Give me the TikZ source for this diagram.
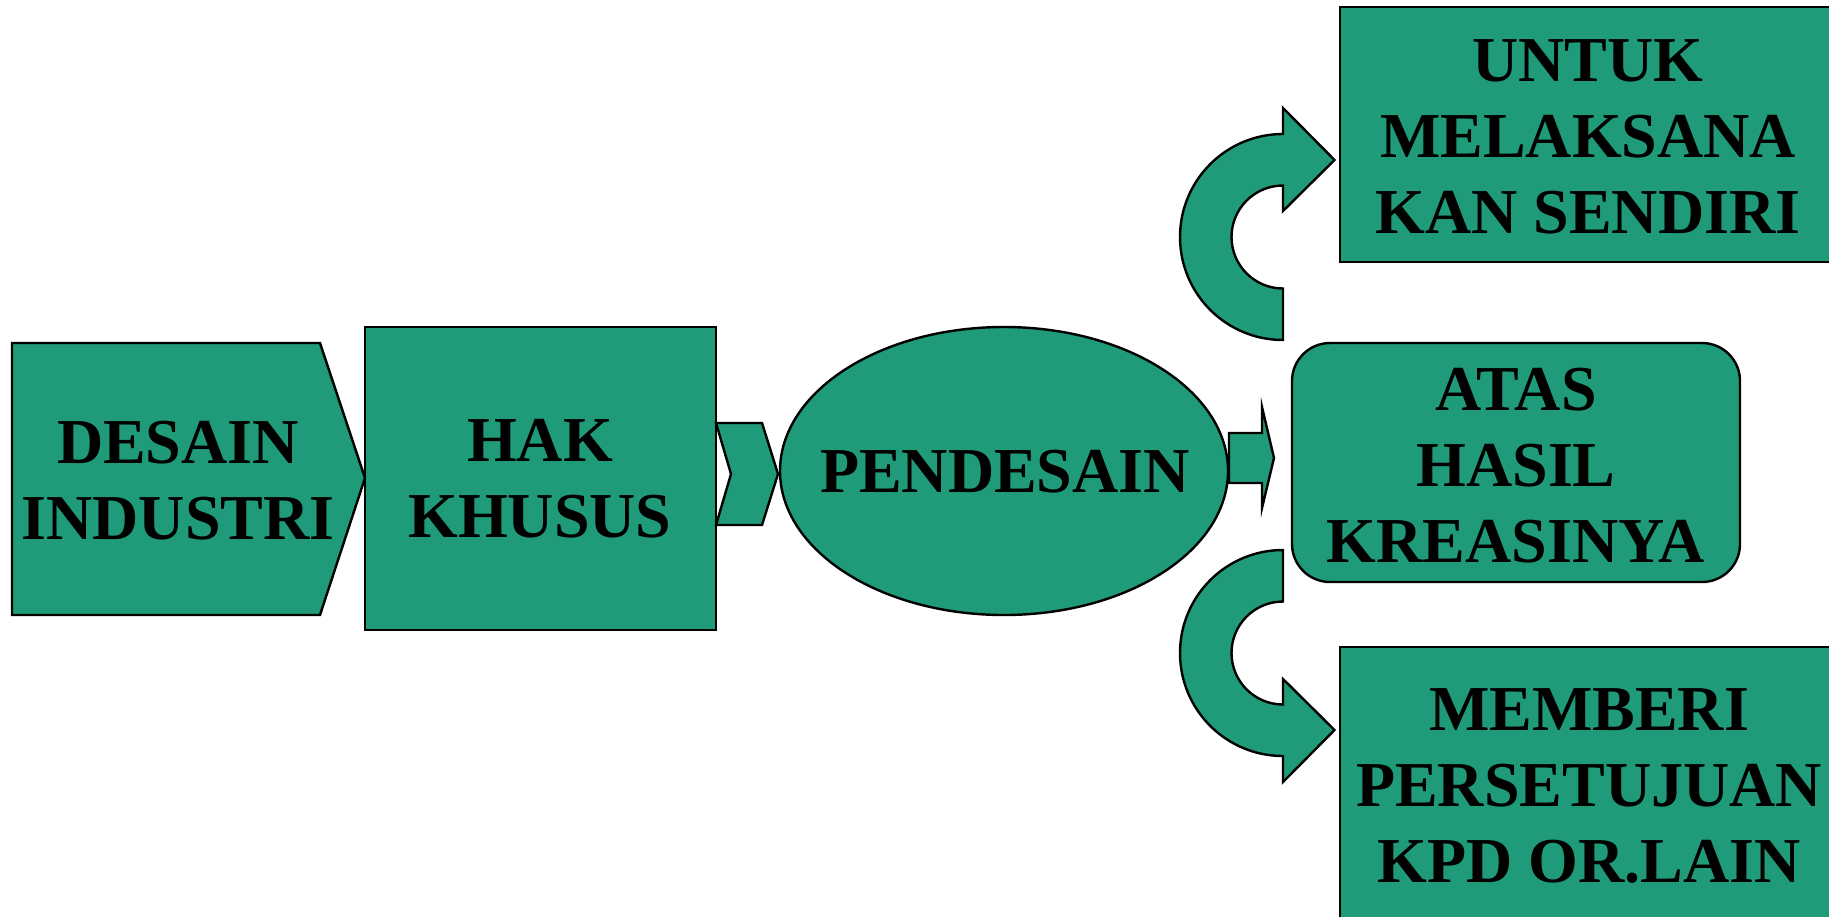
\documentclass[tikz,border=0pt]{standalone}
\usepackage{fontspec}
\setmainfont{Liberation Serif}
\usetikzlibrary{shapes.geometric}
\definecolor{teal1}{RGB}{31,155,121}
\tikzset{
  shp/.style={draw=black, fill=teal1, line width=1.2pt, line join=miter},
  edge/.style={draw=black, line width=1.2pt},
  lbl/.style={align=center, inner sep=0pt, font=\fontsize{32}{38}\selectfont\bfseries},
}
\begin{document}
\begin{tikzpicture}[x=0.5pt, y=-0.5pt]
\useasboundingbox (0,0) rectangle (1829,916);
\begin{scope}
\clip (0,0) rectangle (1829,916);
% pentagon DESAIN INDUSTRI
\draw[shp] (12,343) -- (320,343) -- (365,478) -- (320,615) -- (12,615) -- cycle;
% HAK KHUSUS box
\node[shp, rectangle, minimum width=175.5pt, minimum height=151.5pt, inner sep=0pt] (hakbox) at (540.5,478.5) {};
% chevron
\draw[shp] (716,423) -- (762,423) -- (778,474) -- (762,525) -- (716,525) -- (731,474) -- cycle;
% ellipse
\node[shp, ellipse, minimum width=224pt, minimum height=144pt, inner sep=0pt] (pendbox) at (1004,471) {};
% small right arrow
\draw[shp] (1229,433) -- (1262,433) -- (1262,407) -- (1274,458) -- (1262,508) -- (1262,483) -- (1229,483) -- cycle;
% rounded box ATAS
\node[shp, rectangle, rounded corners=19pt, minimum width=224pt, minimum height=119.5pt, inner sep=0pt] (atasbox) at (1516,462.5) {};
% top box
\fill[teal1] (1340,7) rectangle (1850,262);
\draw[edge] (1850,7) -- (1340,7) -- (1340,262) -- (1850,262);
\coordinate (untukc) at (1588,137);
% bottom box
\fill[teal1] (1340,647) rectangle (1850,950);
\draw[edge] (1850,647) -- (1340,647) -- (1340,950);
\coordinate (memberic) at (1589,786);
% top curved arrow
\draw[shp] (1283,340) arc[start angle=90, end angle=270, radius=103]
  -- (1283,108) -- (1334.5,160) -- (1283,211) -- (1283,185.5)
  arc[start angle=270, end angle=90, radius=51.5] -- cycle;
% bottom curved arrow
\draw[shp] (1283,550) arc[start angle=270, end angle=90, radius=103]
  -- (1283,782) -- (1334.5,730) -- (1283,679) -- (1283,704.5)
  arc[start angle=90, end angle=270, radius=51.5] -- cycle;
\end{scope}
% labels
\node[lbl] (desain) at (178,481) {DESAIN\\INDUSTRI};
\node[lbl] (hak) at (540,479) {HAK\\KHUSUS};
\node[lbl] (pend) at (1005,472) {PENDESAIN};
\node[lbl] (atas) at (1516,466) {ATAS\\HASIL\\KREASINYA};
\node[lbl] (untuk) at (untukc) {UNTUK\\MELAKSANA\\KAN SENDIRI};
\node[lbl] (memberi) at (memberic) {MEMBERI\\PERSETUJUAN\\KPD OR.LAIN};
\end{tikzpicture}
\end{document}
